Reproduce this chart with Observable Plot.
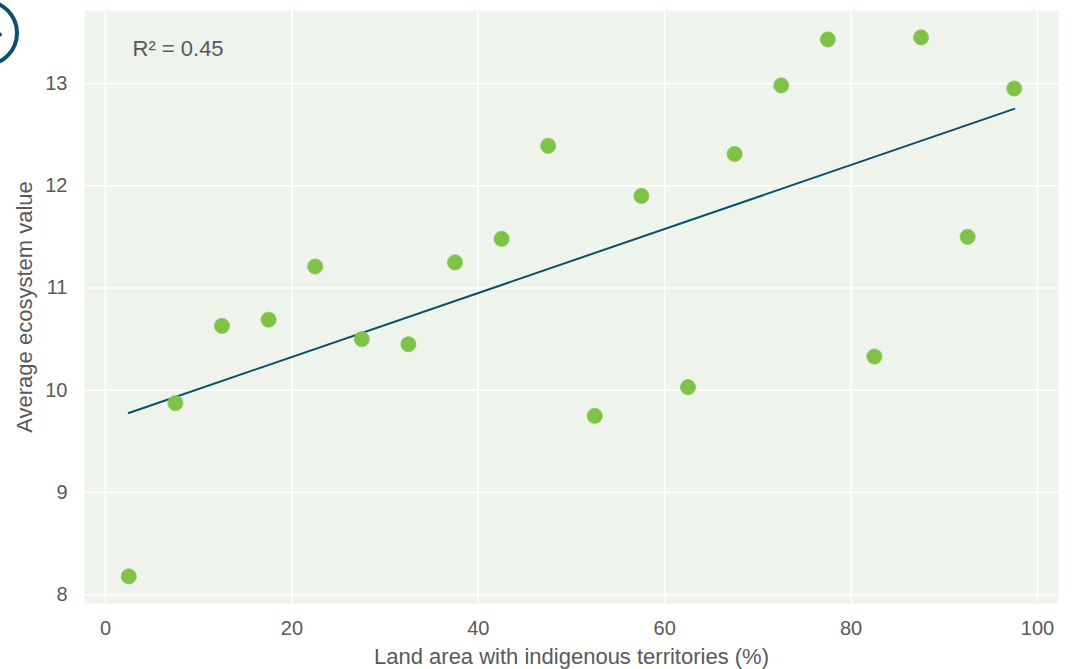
<!DOCTYPE html>
<html>
<head>
<meta charset="utf-8">
<script src="https://cdn.jsdelivr.net/npm/d3@7"></script>
<script src="https://cdn.jsdelivr.net/npm/@observablehq/plot@0.6"></script>
<style>
  html, body { margin: 0; padding: 0; background: #ffffff; }
  #chart { width: 1073px; height: 669px; overflow: hidden; }
  #chart svg text { font-family: 'Liberation Sans', Arial, sans-serif; }
  #chart g[aria-label="x-axis label"] text,
  #chart g[aria-label="y-axis label"] text { font-size: 22px; }
</style>
</head>
<body>
<div id="chart"></div>
<script>
// Data
const landArea = [2.5, 7.5, 12.5, 17.5, 22.5, 27.5, 32.5, 37.5, 42.5, 47.5,
                  52.5, 57.5, 62.5, 67.5, 72.5, 77.5, 82.5, 87.5, 92.5, 97.5];
const ecosystemValue = [8.18, 9.875, 10.63, 10.69, 11.21, 10.5, 10.45, 11.25, 11.48, 12.39,
                        9.75, 11.9, 10.03, 12.31, 12.98, 13.43, 10.33, 13.45, 11.5, 12.95];
const xTicks = [0, 20, 40, 60, 80, 100];
const yTicks = [8, 9, 10, 11, 12, 13];
const xLabel = "Land area with indigenous territories (%)";
const yLabel = "Average ecosystem value";
const r2Label = "R\u00b2 = 0.45";

const data = landArea.map((x, i) => ({x, y: ecosystemValue[i]}));

const textColor = "#595959";
const panelFill = "#eef4ec";
const pointFill = "#80c247";
const lineColor = "#0b4f6c";

const chart = Plot.plot({
  width: 1073,
  height: 669,
  marginLeft: 84,
  marginRight: 15,
  marginTop: 10,
  marginBottom: 66,
  style: {fontFamily: "'Liberation Sans', Arial, sans-serif", fontSize: "20px", color: textColor, background: "#ffffff"},
  x: {domain: [-2.25, 102.25]},
  y: {domain: [7.915, 13.713]},
  marks: [
    Plot.frame({fill: panelFill, stroke: null}),
    Plot.gridX(xTicks, {stroke: "#ffffff", strokeOpacity: 1, strokeWidth: 1.5}),
    Plot.gridY(yTicks, {stroke: "#ffffff", strokeOpacity: 1, strokeWidth: 1.5}),
    Plot.axisX(xTicks, {tickSize: 0, tickPadding: 17, tickFormat: d => String(d), label: xLabel, labelAnchor: "center", labelArrow: "none", labelOffset: 60, fill: textColor}),
    Plot.axisY(yTicks, {tickSize: 0, tickPadding: 17, tickFormat: d => String(d), label: yLabel, labelAnchor: "center", labelArrow: "none", labelOffset: 68, fill: textColor}),
    Plot.linearRegressionY(data, {x: "x", y: "y", ci: 0, stroke: lineColor, strokeWidth: 2}),
    Plot.dot(data, {x: "x", y: "y", r: 7.6, fill: pointFill, stroke: "#8cc95a", strokeWidth: 0.8}),
    Plot.text([r2Label], {frameAnchor: "top-left", dx: 48, dy: 38, textAnchor: "start", lineAnchor: "middle", fill: textColor, fontSize: 22})
  ]
});

document.getElementById("chart").appendChild(chart);

// decorative panel badge ring (cut off at the top-left corner)
d3.select(chart).append("circle")
  .attr("cx", -15).attr("cy", 33).attr("r", 32)
  .attr("fill", "none").attr("stroke", lineColor).attr("stroke-width", 4);
d3.select(chart).append("circle")
  .attr("cx", 0).attr("cy", 34.5).attr("r", 2)
  .attr("fill", lineColor);
</script>
</body>
</html>
